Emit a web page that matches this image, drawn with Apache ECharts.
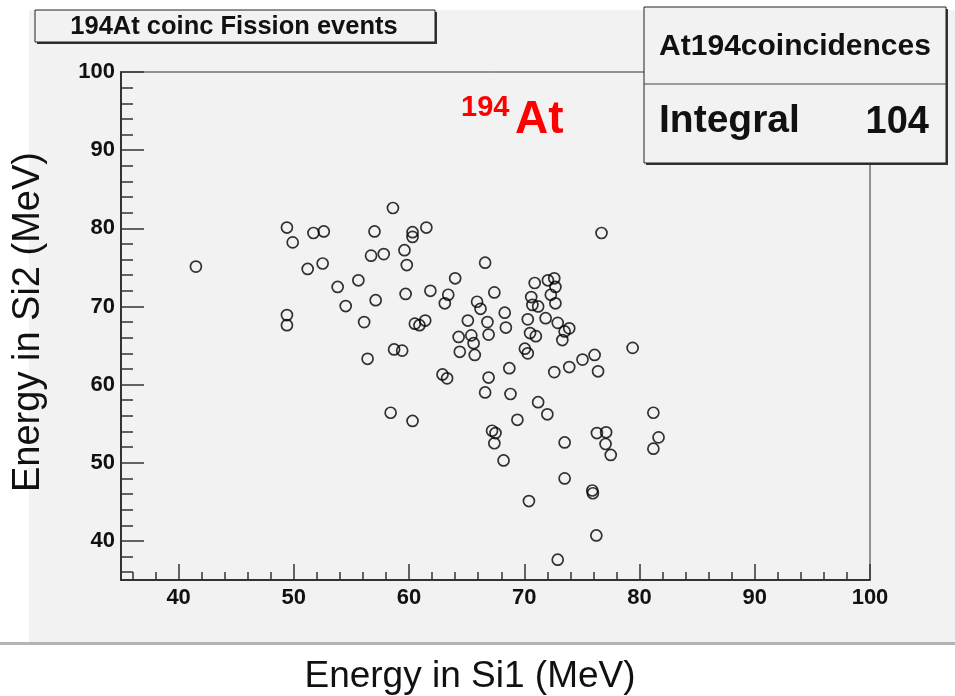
<!DOCTYPE html>
<html>
<head>
<meta charset="utf-8">
<script src="https://cdn.jsdelivr.net/npm/echarts@6/dist/echarts.min.js"></script>
<style>
html,body{margin:0;padding:0;background:#fff;}
#chart{width:955px;height:696px;}
</style>
</head>
<body>
<div id="chart"></div>
<script>
// Energy in Si1 (MeV)
var si1 = [41.5,49.4,49.9,51.7,52.6,51.2,52.5,49.4,49.4,53.8,54.5,55.6,56.1,56.4,56.7,57.0,57.1,57.8,58.6,58.7,
           59.4,58.4,60.3,59.6,59.8,59.7,60.3,60.3,61.5,60.5,60.9,61.4,61.85,62.9,63.3,64.0,63.4,63.1,65.1,64.3,
           64.4,65.4,65.6,65.7,65.9,76.7,66.6,67.4,66.2,66.8,66.9,68.3,68.4,68.7,66.9,66.6,68.8,71.2,69.4,72.0,
           67.2,67.5,67.4,68.2,73.5,76.3,77.1,77.05,77.5,81.2,81.65,81.2,70.9,72.05,72.6,72.7,72.3,72.7,70.6,70.7,
           71.2,70.3,71.85,72.9,73.9,73.5,73.3,70.5,71.0,70.05,70.3,76.1,75.05,73.9,72.6,76.4,79.4,73.5,75.9,75.95,
           70.4,76.25,72.9];
// Energy in Si2 (MeV)
var si2 = [75.1,80.1,78.2,79.4,79.6,74.8,75.5,68.9,67.6,72.5,70.05,73.35,68.0,63.3,76.5,79.6,70.8,76.7,82.6,64.5,
           64.35,56.4,55.35,77.2,75.3,71.6,79.5,78.9,80.1,67.8,67.6,68.2,72.0,61.3,60.8,73.6,71.5,70.4,68.2,66.1,
           64.2,66.3,65.3,63.8,70.6,79.4,75.6,71.8,69.7,68.0,66.4,69.2,67.3,62.1,60.9,59.0,58.8,57.75,55.5,56.2,
           54.1,53.8,52.5,50.3,52.6,53.8,53.9,52.4,51.0,56.4,53.25,51.8,73.0,73.35,73.6,72.5,71.5,70.4,71.2,70.2,
           70.0,68.35,68.5,67.9,67.2,66.8,65.7,66.6,66.2,64.6,64.0,63.8,63.2,62.25,61.6,61.7,64.7,48.0,46.45,46.1,
           45.1,40.7,37.6];
var majorTicks = [40,50,60,70,80,90,100];
var xMinor = [36,38,42,44,46,48,52,54,56,58,62,64,66,68,72,74,76,78,82,84,86,88,92,94,96,98];
var yMinor = [36,38,42,44,46,48,52,54,56,58,62,64,66,68,72,74,76,78,82,84,86,88,92,94,96,98];
var titleText = '194At coinc Fission events';
var statsName = 'At194coincidences';
var statsLabel = 'Integral';
var statsValue = '104';
var xTitle = 'Energy in Si1 (MeV)';
var yTitle = 'Energy in Si2 (MeV)';

var points = si1.map(function (x, i) { return [x, si2[i]]; });

var chart = echarts.init(document.getElementById('chart'), null, {renderer: 'canvas'});
var lblStyle = {fontFamily: 'Liberation Sans, Arial, sans-serif', fontWeight: 'bold', fontSize: 22, color: '#111'};
var option = {
  animation: false,
  backgroundColor: '#ffffff',
  grid: {left: 121, right: 85, top: 72, bottom: 116, show: true, borderColor: '#333', borderWidth: 1, backgroundColor: 'transparent'},
  xAxis: [
    {type: 'value', min: 35, max: 100, position: 'bottom',
     axisLine: {show: true, onZero: false, lineStyle: {color: '#333', width: 2}},
     axisTick: {show: true, inside: true, length: 16, customValues: majorTicks, lineStyle: {color: '#333', width: 1.5}},
     axisLabel: Object.assign({show: true, margin: 7, customValues: majorTicks}, lblStyle),
     splitLine: {show: false}},
    {type: 'value', min: 35, max: 100, position: 'bottom',
     axisLine: {show: false},
     axisTick: {show: true, inside: true, length: 8, customValues: xMinor, lineStyle: {color: '#333', width: 1.5}},
     axisLabel: {show: false},
     splitLine: {show: false}}
  ],
  yAxis: [
    {type: 'value', min: 35, max: 100, position: 'left',
     axisLine: {show: true, onZero: false, lineStyle: {color: '#333', width: 2}},
     axisTick: {show: true, inside: true, length: 23, customValues: majorTicks, lineStyle: {color: '#333', width: 1.5}},
     axisLabel: Object.assign({show: true, margin: 6, customValues: majorTicks}, lblStyle),
     splitLine: {show: false}},
    {type: 'value', min: 35, max: 100, position: 'left',
     axisLine: {show: false},
     axisTick: {show: true, inside: true, length: 12, customValues: yMinor, lineStyle: {color: '#333', width: 1.5}},
     axisLabel: {show: false},
     splitLine: {show: false}}
  ],
  series: [{
    type: 'scatter',
    xAxisIndex: 0, yAxisIndex: 0,
    data: points,
    symbol: 'circle',
    symbolSize: 11,
    itemStyle: {color: 'rgba(0,0,0,0)', borderColor: '#000', borderWidth: 1.7},
    emphasis: {disabled: true},
    z: 5
  }],
  graphic: {elements: [
    {type: 'rect', z: -100, shape: {x: 29, y: 10, width: 926, height: 632}, style: {fill: '#f2f2f2'}},
    {type: 'rect', z: -100, shape: {x: 0, y: 642, width: 955, height: 3}, style: {fill: '#b4b4b4'}},
    // title box
    {type: 'rect', z: 100, shape: {x: 37, y: 12, width: 400, height: 32}, style: {fill: '#333'}},
    {type: 'rect', z: 101, shape: {x: 35, y: 10, width: 400, height: 32}, style: {fill: '#f2f2f2', stroke: '#222', lineWidth: 1}},
    {type: 'text', z: 102, x: 234, y: 27, style: {text: titleText, fontFamily: 'Liberation Sans, Arial', fontWeight: 'bold', fontSize: 25.5, fill: '#111', align: 'center', verticalAlign: 'middle'}},
    // stats box
    {type: 'rect', z: 100, shape: {x: 646, y: 9, width: 302, height: 156}, style: {fill: '#333'}},
    {type: 'rect', z: 101, shape: {x: 644, y: 7, width: 302, height: 156}, style: {fill: '#f2f2f2', stroke: '#222', lineWidth: 1}},
    {type: 'line', z: 102, shape: {x1: 644, y1: 84, x2: 946, y2: 84}, style: {stroke: '#444', lineWidth: 1}},
    {type: 'text', z: 102, x: 795, y: 47, style: {text: statsName, fontFamily: 'Liberation Sans, Arial', fontWeight: 'bold', fontSize: 30, fill: '#111', align: 'center', verticalAlign: 'middle'}},
    {type: 'text', z: 102, x: 659, y: 121, style: {text: statsLabel, fontFamily: 'Liberation Sans, Arial', fontWeight: 'bold', fontSize: 39, fill: '#111', align: 'left', verticalAlign: 'middle'}},
    {type: 'text', z: 102, x: 929, y: 123, style: {text: statsValue, fontFamily: 'Liberation Sans, Arial', fontWeight: 'bold', fontSize: 38, fill: '#111', align: 'right', verticalAlign: 'middle'}},
    // red label
    {type: 'text', z: 102, x: 461, y: 108, style: {text: '194', fontFamily: 'Liberation Sans, Arial', fontWeight: 'bold', fontSize: 29, fill: '#ff0000', align: 'left', verticalAlign: 'middle'}},
    {type: 'text', z: 102, x: 515, y: 120, style: {text: 'At', fontFamily: 'Liberation Sans, Arial', fontWeight: 'bold', fontSize: 46, fill: '#ff0000', align: 'left', verticalAlign: 'middle'}},
    // axis titles
    {type: 'text', z: 102, x: 470, y: 677, style: {text: xTitle, fontFamily: 'Liberation Sans, Arial', fontSize: 37, fill: '#111', align: 'center', verticalAlign: 'middle'}},
    {type: 'text', z: 102, x: 29, y: 322, rotation: Math.PI / 2, style: {text: yTitle, fontFamily: 'Liberation Sans, Arial', fontSize: 38, fill: '#111', align: 'center', verticalAlign: 'middle'}}
  ]}
};
chart.setOption(option);
</script>
</body>
</html>
